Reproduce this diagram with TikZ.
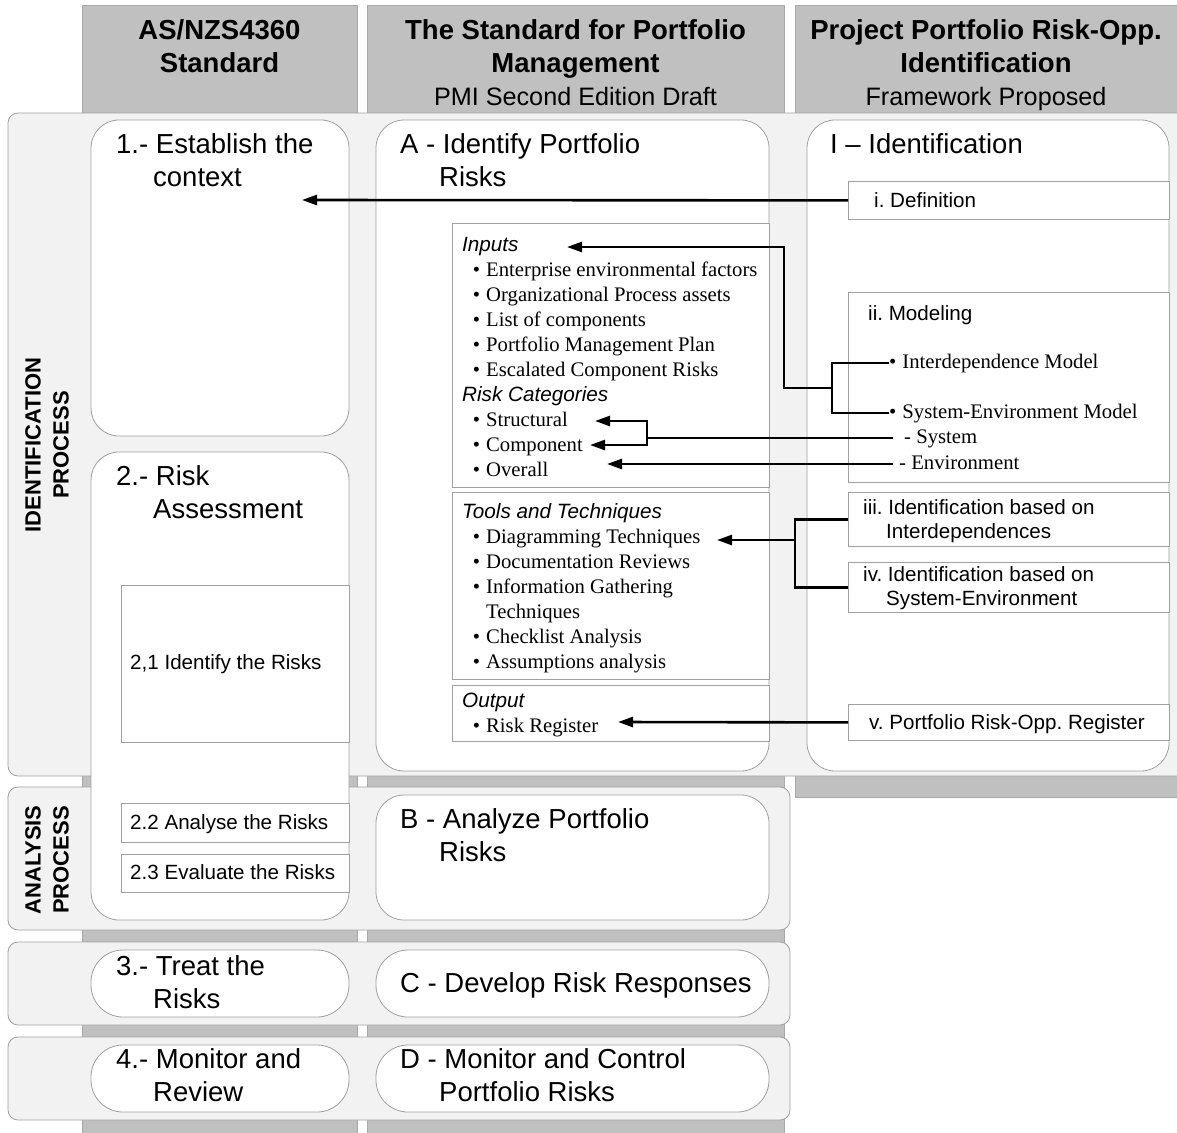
\documentclass[tikz,border=0pt]{standalone}
\usepackage{fontspec}
\setmainfont{Liberation Serif}
\setsansfont{Liberation Sans}
\usetikzlibrary{arrows.meta}
\frenchspacing
\definecolor{hdr}{HTML}{C0C0C0}
\definecolor{hdrline}{HTML}{A8A8A8}
\definecolor{bandfill}{HTML}{F2F2F2}
\definecolor{bline}{HTML}{A0A0A0}
\newcommand\lbul{\makebox[24pt][r]{\textbullet\hspace{6pt}}}
\tikzset{
 col/.style={fill=hdr, draw=hdrline, line width=0.8pt},
 bandbox/.style={fill=bandfill, draw=bline, line width=0.8pt, rounded corners=10pt},
 wbox/.style={fill=white, draw=bline, line width=0.8pt, rounded corners=28pt},
 pill/.style={fill=white, draw=bline, line width=0.8pt, rounded corners=32pt},
 sbox/.style={fill=white, draw=bline, line width=0.8pt, anchor=north west, inner sep=0pt, minimum width=321pt},
 lbox/.style={fill=white, draw=bline, line width=0.8pt, anchor=north west, inner sep=0pt, minimum width=317pt},
 abox/.style={fill=white, draw=bline, line width=0.8pt, anchor=north west, inner sep=0pt, minimum width=228pt},
 hdrtxt/.style={font=\sffamily\bfseries\fontsize{27.5}{33}\selectfont, inner sep=0pt, anchor=base},
 vlabel/.style={rotate=90, align=center, font=\sffamily\bfseries\fontsize{22}{28}\selectfont, inner sep=0pt},
 title/.style={font=\sffamily\fontsize{27.5}{33}\selectfont, inner sep=0pt, anchor=base west},
 small/.style={font=\sffamily\fontsize{20.6}{24.5}\selectfont, inner sep=0pt, anchor=base west},
 list/.style={font=\rmfamily\fontsize{20.7}{25}\selectfont, inner sep=0pt, anchor=base west},
 mlist/.style={list, text height=14pt, text depth=4pt},
 wire/.style={line width=2.6pt, black},
 arrowwire/.style={wire, -{Triangle[length=15pt,width=10pt]}},
}
\begin{document}
\begin{tikzpicture}[x=1pt,y=-1pt]
\useasboundingbox (0,0) rectangle (1177,1132);
\fill[white] (0,0) rectangle (1177,1132);
% columns
\draw[col] (82,5) rectangle (357,1140);
\draw[col] (367,5) rectangle (784,1140);
\draw[col] (795,5) rectangle (1190,797);
% bands
\draw[bandbox] (8,113) rectangle (1195,776);
\draw[bandbox] (8,787) rectangle (790,930);
\draw[bandbox] (8,942) rectangle (790,1025);
\draw[bandbox] (8,1037) rectangle (790,1120);
% header texts
\node[hdrtxt] (h1) at (219.5,40) {\begin{tabular}[t]{@{}c@{}}AS/NZS4360\\Standard\end{tabular}};
\node[hdrtxt] (h2) at (575.5,40) {\begin{tabular}[t]{@{}c@{}}The Standard for Portfolio\\Management\\\mdseries\fontsize{25.2}{33}\selectfont PMI Second Edition Draft\end{tabular}};
\node[hdrtxt] (h3) at (986,40) {\begin{tabular}[t]{@{}c@{}}Project Portfolio Risk-Opp.\\Identification\\\mdseries\fontsize{25.2}{33}\selectfont Framework Proposed\end{tabular}};
% band labels
\node[vlabel] (idl) at (47,445) {IDENTIFICATION\\PROCESS};
\node[vlabel] (anl) at (47,860) {ANALYSIS\\PROCESS};
% white boxes
\draw[wbox] (91,120) rectangle (349,436);
\draw[wbox] (91,452) rectangle (349,920);
\draw[wbox] (376,120) rectangle (769,771);
\draw[wbox] (807,120) rectangle (1169,771);
\draw[wbox] (376,795) rectangle (769,920);
\draw[pill] (91,950) rectangle (349,1017);
\draw[pill] (376,950) rectangle (769,1017);
\draw[pill] (91,1045) rectangle (349,1112);
\draw[pill] (376,1045) rectangle (769,1112);
% sub boxes
\node[abox, minimum height=157pt] (s21) at (121,585) {};
\node[abox, minimum height=39pt] (s22) at (121,803) {};
\node[abox, minimum height=38pt] (s23) at (121,854) {};
\node[lbox, minimum height=264pt] (inbox) at (452,223) {};
\node[lbox, minimum height=187pt] (toolbox) at (452,492) {};
\node[lbox, minimum height=56pt] (outbox) at (452,685) {};
\node[sbox, minimum height=38pt] (def) at (848,181) {};
\node[sbox, minimum height=190pt] (mod) at (848,292) {};
\node[sbox, minimum height=54pt] (iii) at (848,492) {};
\node[sbox, minimum height=50pt] (iv) at (848,562) {};
\node[sbox, minimum height=36pt] (v) at (848,704) {};
% titles
\node[title] (t1) at (116,153.5) {\begin{tabular}[t]{@{}l@{}}1.- Establish the\\\hspace*{37pt}context\end{tabular}};
\node[title] (tA) at (400,153.5) {\begin{tabular}[t]{@{}l@{}}A - Identify Portfolio\\\hspace*{39pt}Risks\end{tabular}};
\node[title] (tI) at (830,153.5) {I – Identification};
\node[title] (t2) at (116,485.5) {\begin{tabular}[t]{@{}l@{}}2.- Risk\\\hspace*{37pt}Assessment\end{tabular}};
\node[title] (tB) at (400,828.5) {\begin{tabular}[t]{@{}l@{}}B - Analyze Portfolio\\\hspace*{39pt}Risks\end{tabular}};
\node[title] (t3) at (116,975.5) {\begin{tabular}[t]{@{}l@{}}3.- Treat the\\\hspace*{37pt}Risks\end{tabular}};
\node[title] (tC) at (400,992.5) {C - Develop Risk Responses};
\node[title] (t4) at (116,1068.5) {\begin{tabular}[t]{@{}l@{}}4.- Monitor and\\\hspace*{37pt}Review\end{tabular}};
\node[title] (tD) at (400,1068.5) {\begin{tabular}[t]{@{}l@{}}D - Monitor and Control\\\hspace*{39pt}Portfolio Risks\end{tabular}};
% small texts
\node[small] (x21) at (130,669) {2,1 Identify the Risks};
\node[small] (x22) at (130,829) {2.2 Analyse the Risks};
\node[small] (x23) at (130,879) {2.3 Evaluate the Risks};
\node[small] (deft) at (874,207) {i. Definition};
\node[small] (modt) at (868,320) {ii. Modeling};
\node[small] (iiit) at (863,514) {\begin{tabular}[t]{@{}l@{}}iii. Identification based on\\\hspace*{23pt}Interdependences\end{tabular}};
\node[small] (ivt) at (863,581) {\begin{tabular}[t]{@{}l@{}}iv. Identification based on\\\hspace*{23pt}System-Environment\end{tabular}};
\node[small] (vt) at (869,729) {v. Portfolio Risk-Opp. Register};
% lists
\node[list] (inlist) at (462,251) {\begin{tabular}[t]{@{}l@{}}
\sffamily\itshape Inputs\\
\lbul Enterprise environmental factors\\
\lbul Organizational Process assets\\
\lbul List of components\\
\lbul Portfolio Management Plan\\
\lbul Escalated Component Risks\\
\sffamily\itshape Risk Categories\\
\lbul Structural\\
\lbul Component\\
\lbul Overall
\end{tabular}};
\node[list] (toollist) at (462,518) {\begin{tabular}[t]{@{}l@{}}
\sffamily\itshape Tools and Techniques\\
\lbul Diagramming Techniques\\
\lbul Documentation Reviews\\
\lbul Information Gathering\\
\hspace*{24pt}Techniques\\
\lbul Checklist Analysis\\
\lbul Assumptions analysis
\end{tabular}};
\node[list] (outlist) at (462,707) {\begin{tabular}[t]{@{}l@{}}
\sffamily\itshape Output\\
\lbul Risk Register
\end{tabular}};
% modeling items
\node[mlist] (intm) at (889,368) {\textbullet\hspace{6pt}Interdependence Model};
\node[mlist] (sem) at (889,418) {\textbullet\hspace{6pt}System-Environment Model};
\node[mlist] (sys) at (904,443) {- System};
\node[mlist] (env) at (899,469) {- Environment};
% coordinates
\coordinate (tCtx) at (302,200);
\coordinate (tInputs) at (567,247);
\coordinate (tStruct) at (595,421);
\coordinate (tComp) at (590,445);
\coordinate (tOverall) at (607,464);
\coordinate (tDiag) at (717,540);
\coordinate (tRisk) at (618,722);
\coordinate (j2) at (832,388);
\coordinate (k2) at (784,388);
\coordinate (j3) at (647,438);
\coordinate (j5) at (795,540);
% connectors
\draw[arrowwire] (def.west) -- (tCtx);
\draw[wire] (intm.west) -| (j2);
\draw[wire] (sem.west) -| (j2);
\draw[arrowwire] (j2) -- (k2) |- (tInputs);
\draw[wire] ([xshift=-11pt]sys.west) -- (j3);
\draw[arrowwire] (j3) |- (tStruct);
\draw[arrowwire] (j3) |- (tComp);
\draw[arrowwire] ([xshift=-6pt]env.west) -- (tOverall);
\draw[wire] (iii.west) -| (j5);
\draw[wire] (iv.west) -| (j5);
\draw[arrowwire] (j5) -- (tDiag);
\draw[arrowwire] (v.west) -- (tRisk);
\end{tikzpicture}
\end{document}
